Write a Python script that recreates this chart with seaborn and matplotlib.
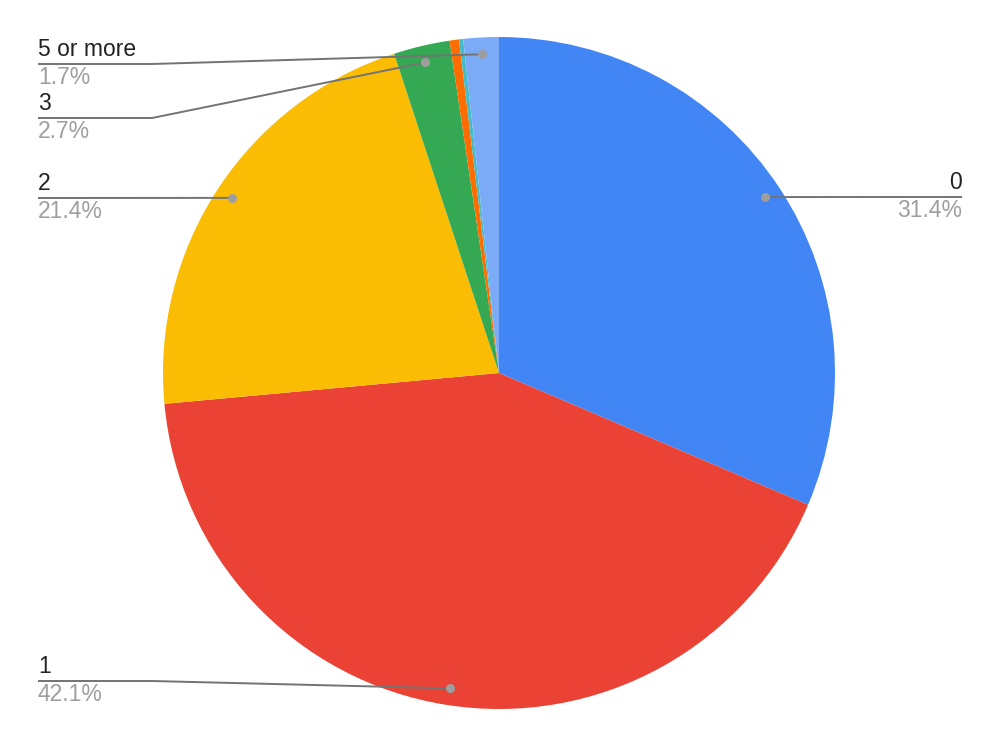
import numpy as np
import matplotlib
matplotlib.use('Agg')
import matplotlib.pyplot as plt
import seaborn as sns

sns.set_theme(style='white')
plt.rcParams['font.family'] = ['Liberation Sans', 'DejaVu Sans']

# slice order as drawn, clockwise from the top
categories = ['0', '1', '2', '3', '4', 'other', '5 or more']
values = [31.4, 42.1, 21.4, 2.7, 0.45, 0.2, 1.7]
colors = ['#4285F4', '#EA4335', '#FBBC04', '#34A853', '#FF6D01', '#46BDC6', '#7BAAF7']
shown = ['0', '1', '2', '3', '5 or more']
pct_text = ['31.4%', '42.1%', '21.4%', '2.7%', '1.7%']

W, H = 999, 746
fig = plt.figure(figsize=(W / 100, H / 100), dpi=100)
ax = fig.add_axes([0, 0, 1, 1])

cx, cy, R = 499, H - 373, 336
wedges, _ = ax.pie(values, colors=colors, startangle=90, counterclock=False,
                   center=(cx, cy), radius=R, frame=True,
                   wedgeprops=dict(linewidth=0))
ax.set_xlim(0, W)
ax.set_ylim(0, H)
ax.set_aspect('equal')
ax.axis('off')

# label layout in pixels: (text x, line y, side, elbow x)
layout = {
    '0': (962, 197, 'right', None),
    '1': (38, 681, 'left', 152),
    '2': (38, 198, 'left', None),
    '3': (38, 118, 'left', 152),
    '5 or more': (38, 64, 'left', 152),
}

for name, pt in zip(shown, pct_text):
    w = wedges[categories.index(name)]
    mid = np.deg2rad((w.theta1 + w.theta2) / 2)
    dx = cx + 0.95 * R * np.cos(mid)
    dy = cy + 0.95 * R * np.sin(mid)
    tx, ly, side, elbow = layout[name]
    ly = H - ly
    if side == 'right':
        xs, ys = [dx, tx], [dy, ly]
        ha = 'right'
    elif elbow is None:
        xs, ys = [tx, dx], [ly, dy]
        ha = 'left'
    else:
        xs, ys = [tx, elbow, dx], [ly, ly, dy]
        ha = 'left'
    ax.plot(xs, ys, color='#737373', lw=1.4, zorder=3, solid_capstyle='butt')
    ax.plot(dx, dy, 'o', color='#9E9E9E', ms=6.5, mec='none', zorder=4)
    ax.text(tx, ly + 3, name, ha=ha, va='bottom', fontsize=16.5, color='#222222')
    ax.text(tx, ly - 2, pt, ha=ha, va='top', fontsize=16.5, color='#9E9E9E')

fig.savefig('out.png', dpi=100)
